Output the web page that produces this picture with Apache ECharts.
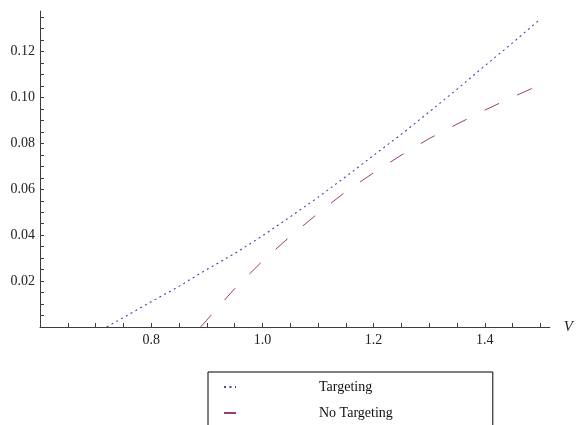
<!DOCTYPE html>
<html lang="en">
  <head>
    <meta charset="UTF-8" />
    <title>Targeting vs No Targeting</title>
    <script src="https://cdn.jsdelivr.net/npm/echarts@6/dist/echarts.min.js"></script>
    <style>
      html, body { margin: 0; padding: 0; background: #fff; }
    </style>
  </head>
  <body>
    <div id="main" style="width: 576px; height: 425px"></div>
    <script type="text/javascript">
      // values (null = curve sits on the axis, hidden by it)
      const vValues = [0.72, 0.75, 0.8, 0.85, 0.889, 0.9, 0.95, 1.0, 1.05, 1.1, 1.15, 1.2, 1.25, 1.3, 1.35, 1.4, 1.45, 1.5];
      const targeting = [0, 0.0041, 0.011, 0.0177, 0.0235, 0.025, 0.032, 0.0397, 0.048, 0.0565, 0.0655, 0.0748, 0.084, 0.0937, 0.1036, 0.1138, 0.1238, 0.1342];
      const noTargeting = [null, null, null, null, 0, 0.003, 0.0167, 0.0287, 0.0395, 0.0495, 0.059, 0.0672, 0.0749, 0.0821, 0.0884, 0.0945, 0.1002, 0.1056];

      const xLabels = [0.8, 1.0, 1.2, 1.4];
      const xTicks = [0.65, 0.7, 0.75, 0.8, 0.85, 0.9, 0.95, 1.0, 1.05, 1.1, 1.15, 1.2, 1.25, 1.3, 1.35, 1.4, 1.45, 1.5];
      const yLabels = [0.02, 0.04, 0.06, 0.08, 0.1, 0.12];
      const yTicks = [0.005, 0.01, 0.015, 0.02, 0.025, 0.03, 0.035, 0.04, 0.045, 0.05, 0.055, 0.06, 0.065, 0.07, 0.075, 0.08, 0.085, 0.09, 0.095, 0.1, 0.105, 0.11, 0.115, 0.12, 0.125, 0.13, 0.135];

      const font = "Liberation Serif";
      const axisColor = "#3d3d3d";

      let myChart = echarts.init(document.getElementById("main"));

      let options = {
        animation: false,
        backgroundColor: "#fff",
        grid: { left: 40, top: 11, right: 24, bottom: 98 },
        xAxis: {
          type: "value",
          min: 0.6,
          max: 1.517,
          name: "V",
          nameLocation: "end",
          nameGap: 14,
          nameTextStyle: { fontFamily: font, fontStyle: "italic", fontSize: 15, color: "#222" },
          axisLine: { onZero: false, lineStyle: { color: axisColor, width: 1 } },
          axisTick: { inside: true, length: 4, customValues: xTicks, lineStyle: { color: axisColor } },
          axisLabel: {
            customValues: xLabels,
            margin: 6,
            fontFamily: font,
            fontSize: 14,
            color: "#222",
            formatter: (v) => v.toFixed(1),
          },
          splitLine: { show: false },
        },
        yAxis: {
          type: "value",
          min: 0,
          max: 0.1377,
          axisLine: { show: true, onZero: false, lineStyle: { color: axisColor, width: 1 } },
          axisTick: { show: true, inside: true, length: 4, customValues: yTicks, lineStyle: { color: axisColor } },
          axisLabel: {
            customValues: yLabels,
            margin: 5,
            fontFamily: font,
            fontSize: 14,
            color: "#222",
            formatter: (v) => v.toFixed(2),
          },
          splitLine: { show: false },
        },
        legend: {
          orient: "vertical",
          left: 208,
          top: 372,
          height: 120,
          padding: [8, 100, 40, 15],
          itemGap: 12,
          itemWidth: 12,
          itemHeight: 14,
          borderColor: "#000",
          borderWidth: 1,
          itemStyle: { color: "transparent", borderWidth: 0 },
          textStyle: { fontFamily: font, fontSize: 14, color: "#111", padding: [0, 0, 0, 78] },
          data: ["Targeting", "No Targeting"],
        },
        series: [
          {
            name: "Targeting",
            type: "line",
            symbol: "none",
            data: vValues.map((v, i) => [v, targeting[i]]),
            lineStyle: { color: "#4444b0", width: 1.1, type: [2, 3.5] },
            itemStyle: { color: "#4444b0" },
          },
          {
            name: "No Targeting",
            type: "line",
            symbol: "none",
            data: vValues.map((v, i) => [v, noTargeting[i]]),
            lineStyle: { color: "#993d71", width: 1, type: [16, 20] },
            itemStyle: { color: "#993d71" },
          },
        ],
      };

      myChart.setOption(options);
    </script>
  </body>
</html>
